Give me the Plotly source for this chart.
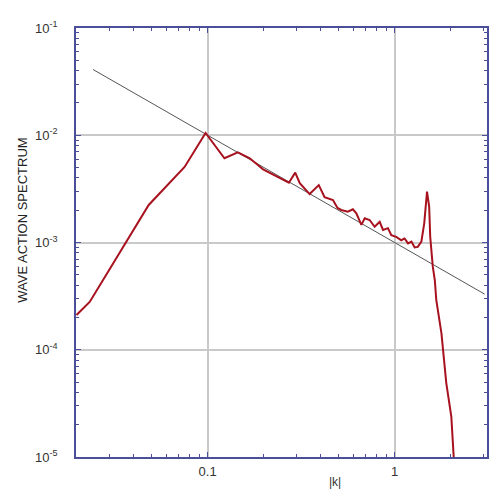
import plotly.graph_objects as go

# spectrum data (|k|, wave action)
k_vals = [0.0199, 0.0234, 0.0484, 0.0574, 0.0753, 0.0975, 0.123, 0.145, 0.168, 0.198,
          0.243, 0.272, 0.294, 0.311, 0.351, 0.393, 0.422, 0.468, 0.495, 0.518,
          0.562, 0.598, 0.624, 0.664, 0.692, 0.735, 0.782, 0.815, 0.832, 0.867,
          0.921, 0.960, 1.02, 1.086, 1.13, 1.18, 1.23, 1.28, 1.33, 1.39,
          1.44, 1.49, 1.53, 1.55, 1.60, 1.64, 1.67, 1.78, 1.89, 2.01, 2.07]
spec_vals = [2.11e-4, 2.79e-4, 2.24e-3, 3.08e-3, 5.06e-3, 1.05e-2, 6.1e-3, 6.93e-3, 6.1e-3, 4.81e-3,
             3.97e-3, 3.61e-3, 4.48e-3, 3.57e-3, 2.83e-3, 3.43e-3, 2.64e-3, 2.49e-3, 2.1e-3, 2.01e-3,
             1.94e-3, 2.04e-3, 1.87e-3, 1.46e-3, 1.68e-3, 1.62e-3, 1.40e-3, 1.51e-3, 1.56e-3, 1.31e-3,
             1.36e-3, 1.17e-3, 1.13e-3, 1.05e-3, 1.09e-3, 9.8e-4, 1.02e-3, 9.0e-4, 9.1e-4, 1.02e-3,
             1.51e-3, 2.98e-3, 2.16e-3, 1.13e-3, 5.95e-4, 4.47e-4, 2.91e-4, 1.42e-4, 4.86e-5, 2.38e-5, 1.0e-5]

# reference power law  A ~ k^-1
ref_k = [0.0244, 3.03]
ref_vals = [0.041, 0.00033]

x_tickvals = [0.1, 1]
x_ticktext = ["0.1", "1"]
y_tickvals = [1e-5, 1e-4, 1e-3, 1e-2, 1e-1]
y_ticktext = ["10<sup>-5</sup>", "10<sup>-4</sup>", "10<sup>-3</sup>", "10<sup>-2</sup>", "10<sup>-1</sup>"]

frame = "#4b4f9a"
fig = go.Figure()
fig.add_trace(go.Scatter(x=ref_k, y=ref_vals, mode="lines",
                         line=dict(color="#555555", width=1), showlegend=False))
fig.add_trace(go.Scatter(x=k_vals, y=spec_vals, mode="lines",
                         line=dict(color="#a8121f", width=2), showlegend=False))

fig.update_layout(
    width=496, height=496,
    margin=dict(l=68, r=17, t=20, b=47),
    paper_bgcolor="white", plot_bgcolor="white",
    font=dict(family="Liberation Sans, Arial, sans-serif", size=13, color="#333333"),
    showlegend=False,
    annotations=[
        dict(text="WAVE ACTION SPECTRUM", textangle=-90, xref="paper", yref="paper",
             x=-0.13, y=0.552, xanchor="center", yanchor="middle", showarrow=False,
             font=dict(size=13, color="#222222")),
        dict(text="|k|", xref="paper", yref="paper", x=0.63, y=-0.037,
             xanchor="center", yanchor="top", showarrow=False,
             font=dict(size=12, color="#333333")),
    ],
)
fig.update_xaxes(type="log", range=[-1.704, 0.494], tickvals=x_tickvals, ticktext=x_ticktext,
                 ticks="inside", ticklen=5, tickcolor=frame, showline=True, linecolor=frame,
                 linewidth=1.5, mirror="allticks", showgrid=True, gridcolor="#c9c9c9", gridwidth=2,
                 zeroline=False, ticklabelstandoff=2,
                 minor=dict(ticks="inside", ticklen=3, tickcolor=frame, dtick="D1", showgrid=False))
fig.update_yaxes(type="log", range=[-5, -1], tickvals=y_tickvals, ticktext=y_ticktext,
                 ticks="inside", ticklen=5, tickcolor=frame, showline=True, linecolor=frame,
                 linewidth=1.5, mirror="allticks", showgrid=True, gridcolor="#c9c9c9", gridwidth=2,
                 zeroline=False, ticklabelstandoff=14,
                 minor=dict(ticks="inside", ticklen=3, tickcolor=frame, dtick="D1", showgrid=False))

fig.write_html("out.html")
